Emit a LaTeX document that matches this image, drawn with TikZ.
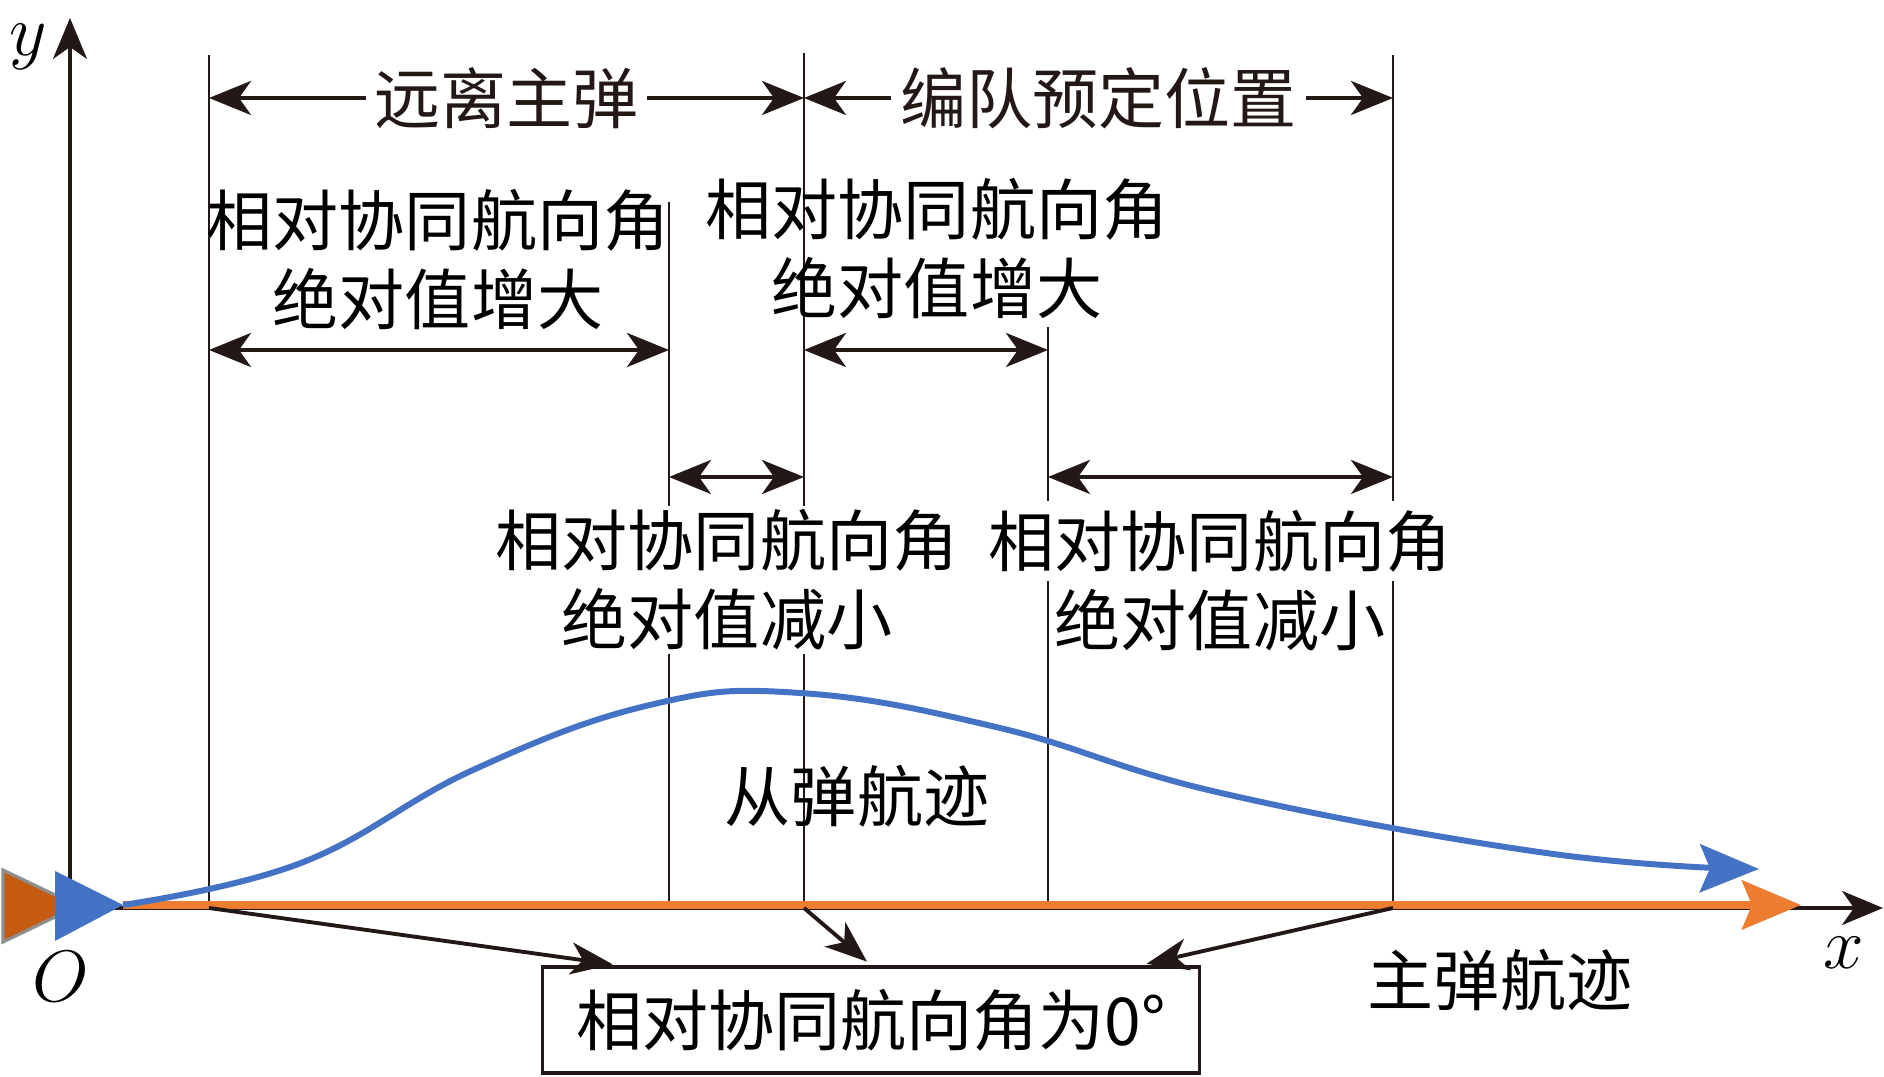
\documentclass[tikz,border=0pt]{standalone}
\usepackage{fontspec}
\usepackage{xcolor}
\usetikzlibrary{arrows.meta,calc}
\newfontfamily\cjk{Noto Sans CJK SC}
\definecolor{inkblk}{HTML}{231815}
\definecolor{trkblue}{HTML}{4472C4}
\definecolor{trkorange}{HTML}{ED7D31}
\definecolor{rustorange}{HTML}{C55A11}
\definecolor{bordgray}{HTML}{8F8F8F}

\begin{document}
\begin{tikzpicture}[
    guide/.style={inkblk, line width=0.8pt},
    axis/.style={inkblk, line width=1pt, -{Stealth[length=4.1mm,width=3.4mm,inset=1.2mm]}},
    span/.style={inkblk, line width=1.2pt, {Stealth[length=4.2mm,width=3.4mm,inset=1.2mm]}-{Stealth[length=4.2mm,width=3.4mm,inset=1.2mm]}},
    pointer/.style={inkblk, line width=1.1pt, shorten >=1.5pt, -{Stealth[length=4.2mm,width=3.2mm,inset=1.2mm]}},
    lbl/.style={font=\cjk\fontsize{18.8}{22.5}\selectfont, align=center, inner sep=1pt},
    cover/.style={lbl, fill=white, inner sep=2.5pt},
    mathlbl/.style={font=\fontsize{20}{24}\selectfont, inner sep=0pt},
  ]
    \useasboundingbox (0,0) rectangle (18.84,10.77);

    \coordinate (O) at (0.70,1.69);
    \coordinate (yend) at (0.70,10.59);
    \coordinate (xend) at (18.83,1.69);

    \coordinate (b1) at (2.09,1.69);  \coordinate (t1) at (2.09,10.22);
    \coordinate (b2) at (6.69,1.69);  \coordinate (t2) at (6.69,8.75);
    \coordinate (b3) at (8.04,1.69);  \coordinate (t3) at (8.04,10.24);
    \coordinate (b4) at (10.48,1.69); \coordinate (t4) at (10.48,7.50);
    \coordinate (b5) at (13.93,1.69); \coordinate (t5) at (13.93,10.22);

    \coordinate (lvTop) at (0,9.79);
    \coordinate (lvUp) at (0,7.27);
    \coordinate (lvLow) at (0,6.00);

    \draw[axis] (O) -- (yend);
    \draw[axis] (O) -- (xend);

    \draw[guide] (b1) -- (t1);
    \draw[guide] (b2) -- (t2);
    \draw[guide] (b3) -- (t3);
    \draw[guide] (b4) -- (t4);
    \draw[guide] (b5) -- (t5);

    \draw[span] (t1 |- lvTop) -- node[cover] (away) {远离主弹} (t3 |- lvTop);
    \draw[span] (t3 |- lvTop) -- node[cover] (preset) {编队预定位置} (t5 |- lvTop);

    \draw[span] (t1 |- lvUp) -- (t2 |- lvUp);
    \draw[span] (t3 |- lvUp) -- (t4 |- lvUp);
    \draw[span] (t2 |- lvLow) -- (t3 |- lvLow);
    \draw[span] (t4 |- lvLow) -- (t5 |- lvLow);

    \node[lbl] (incA) at (4.38,8.17) {相对协同航向角\\绝对值增大};
    \node[lbl] (incB) at (9.37,8.28) {相对协同航向角\\绝对值增大};
    \node[cover, inner sep=1pt] (decA) at (7.27,4.97) {相对协同航向角\\绝对值减小};
    \node[cover] (decB) at (12.20,5.36) {相对协同航向角};
    \node[lbl] (decB2) at (12.20,4.57) {绝对值减小};

    % tracks
    \coordinate (bluetip) at (1.23,1.72);
    \coordinate (ortip) at (18.01,1.72);
    \draw[trkorange, line width=2pt, -{Stealth[length=5.9mm,width=4.9mm,inset=1mm]}] (bluetip) -- (ortip);
    \draw[trkblue, line width=1.7pt, -{Stealth[length=5.9mm,width=4.8mm,inset=1mm]}]
        plot[smooth, tension=0.7] coordinates {(1.23,1.72) (3.01,2.14) (4.73,3.07)
        (6.50,3.72) (8.00,3.84) (10.00,3.49) (12.21,2.84) (15.46,2.24) (17.59,2.08)};

    \draw[bordgray, line width=0.9pt, fill=rustorange] (0.03,2.07) -- (0.78,1.71) -- (0.03,1.35) -- cycle;
    \fill[trkblue] (0.55,2.06) -- (bluetip) -- (0.55,1.36) -- cycle;

    \node[lbl] (follow) at (8.57,2.81) {从弹航迹};
    \node[lbl] (leader) at (15.00,0.97) {主弹航迹};

    \node[lbl, draw=inkblk, line width=1.1pt, minimum width=6.57cm, minimum height=1.06cm] (zero) at (8.71,0.57) {相对协同航向角为0°};

    \draw[pointer] (b1) -- ($(zero.north west)!0.117!(zero.north east)$);
    \draw[pointer] (b3) -- (zero.north);
    \draw[pointer] (b5) -- ($(zero.north west)!0.909!(zero.north east)$);

    \node[mathlbl] (ylbl) at (0.28,10.30) {$y$};
    \node[mathlbl] (xlbl) at (18.44,1.24) {$x$};
    \node[mathlbl] (olbl) at (0.61,1.00) {$O$};
\end{tikzpicture}
\end{document}
